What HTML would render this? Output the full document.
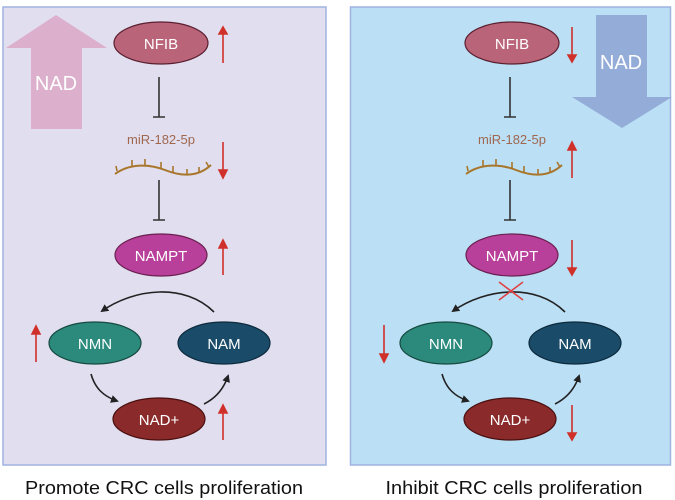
<!DOCTYPE html>
<html><head><meta charset="utf-8"><style>html,body{margin:0;padding:0;background:#fff}svg{display:block}</style></head>
<body>
<svg width="675" height="500" viewBox="0 0 675 500" xmlns="http://www.w3.org/2000/svg" font-family="Liberation Sans, sans-serif">
<defs>
<marker id="ah" markerWidth="8" markerHeight="8" refX="6" refY="4" orient="auto" markerUnits="userSpaceOnUse"><path d="M0,0 L8,4 L0,8 Z" fill="#222"/></marker>
</defs>
<rect x="3" y="7" width="323" height="458" fill="#e1def0" stroke="#9fb3e0" stroke-width="1.5"/>
<rect x="350.5" y="7" width="320" height="458" fill="#bbdff5" stroke="#9fb3e0" stroke-width="1.5"/>
<path d="M56,15 L107,48 L82,48 L82,129 L31,129 L31,48 L6,48 Z" fill="#dcb0cc"/>
<text x="56" y="90" fill="#fff" font-size="20" text-anchor="middle">NAD</text>
<path d="M596,15 L647,15 L647,97 L672,97 L622,128 L572,97 L596,97 Z" fill="#94acd8"/>
<text x="621" y="69" fill="#fff" font-size="20" text-anchor="middle">NAD</text>
<g id="L">
<ellipse cx="161" cy="43" rx="47" ry="21" fill="#b96479" stroke="#5a2030" stroke-width="1.2"/>
<text x="161" y="49" fill="#fff" font-size="15" text-anchor="middle">NFIB</text>
<path d="M159,77 V117 M153,117 H165 M159,180 V220 M153,220 H165" stroke="#333" stroke-width="1.6" fill="none"/>
<text x="161" y="144" fill="#a0674f" font-size="13" text-anchor="middle">miR-182-5p</text>
<path d="M115,174 C130,163 150,164 165,170 C180,176 197,178 211,165" stroke="#a8762a" stroke-width="2" fill="none"/>
<path d="M117,171 l-1,-5 M132,166 v-6 M145,165 v-6 M161,168 v-6 M173,172 v-6 M187,175 v-6 M199,173 v-6 M209,167 l-3,-5" stroke="#a8762a" stroke-width="1.6" fill="none"/>
<ellipse cx="161" cy="255" rx="46" ry="21" fill="#b8409a" stroke="#6a2050" stroke-width="1.2"/>
<text x="161" y="261" fill="#fff" font-size="15" text-anchor="middle">NAMPT</text>
<path d="M214,312 C185,283 135,288 102,311" stroke="#222" stroke-width="1.6" fill="none" marker-end="url(#ah)"/>
<ellipse cx="95" cy="343" rx="46" ry="21" fill="#2b8a7c" stroke="#164a40" stroke-width="1.2"/>
<text x="95" y="349" fill="#fff" font-size="15" text-anchor="middle">NMN</text>
<ellipse cx="224" cy="343" rx="46" ry="21" fill="#1a4c6a" stroke="#0c2a3c" stroke-width="1.2"/>
<text x="224" y="349" fill="#fff" font-size="15" text-anchor="middle">NAM</text>
<path d="M91,374 C95,388 103,396 117,401" stroke="#222" stroke-width="1.6" fill="none" marker-end="url(#ah)"/>
<path d="M204,404 C216,398 224,388 228,376" stroke="#222" stroke-width="1.6" fill="none" marker-end="url(#ah)"/>
<ellipse cx="159" cy="419" rx="46" ry="21" fill="#8a2a2a" stroke="#4a1010" stroke-width="1.2"/>
<text x="159" y="425" fill="#fff" font-size="15" text-anchor="middle">NAD+</text>
</g>
<use href="#L" transform="translate(351,0)"/>
<path d="M499,282 L523,300 M523,282 L499,300" stroke="#e04040" stroke-width="1.5"/>
<g stroke="#d0302a" stroke-width="1.6" fill="#d0302a">
<path d="M223,63 V32"/><path d="M219,34 L223,27 L227,34Z"/>
<path d="M223,142 V172"/><path d="M219,170 L223,178 L227,170Z"/>
<path d="M223,275 V246"/><path d="M219,248 L223,240 L227,248Z"/>
<path d="M36,362 V332"/><path d="M32,334 L36,326 L40,334Z"/>
<path d="M223,440 V412"/><path d="M219,413 L223,405 L227,413Z"/>
<path d="M572,27 V56"/><path d="M568,55 L572,62 L576,55Z"/>
<path d="M572,178 V148"/><path d="M568,150 L572,142 L576,150Z"/>
<path d="M572,240 V269"/><path d="M568,268 L572,275 L576,268Z"/>
<path d="M384,325 V355"/><path d="M380,354 L384,362 L388,354Z"/>
<path d="M572,405 V434"/><path d="M568,433 L572,440 L576,433Z"/>
</g>
<text x="164" y="494" font-size="18" fill="#111" text-anchor="middle" textLength="278" lengthAdjust="spacingAndGlyphs">Promote CRC cells proliferation</text>
<text x="514" y="494" font-size="18" fill="#111" text-anchor="middle" textLength="257" lengthAdjust="spacingAndGlyphs">Inhibit CRC cells proliferation</text>
</svg>
</body></html>
